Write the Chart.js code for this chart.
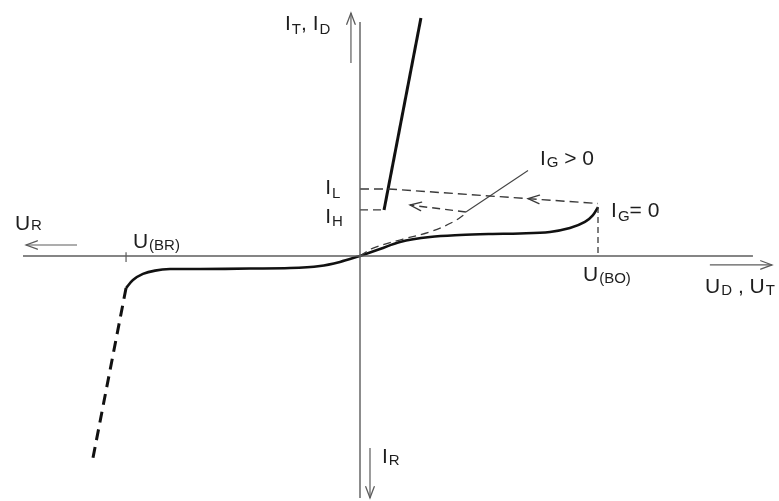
<!DOCTYPE html>
<html>
<head>
<meta charset="utf-8">
<script src="https://cdn.jsdelivr.net/npm/chart.js@4.4.1/dist/chart.umd.min.js"></script>
<style>
  html, body { margin: 0; padding: 0; background: #fff; }
  #wrap { width: 779px; height: 501px; }
</style>
</head>
<body>
<div id="wrap"><canvas id="thyristor" width="779" height="501"></canvas></div>
<script>
// Thyristor U-I characteristic. U in % of U(BO), I in arbitrary units.

// characteristic points
const U_BO = 100;
const U_BR = -98.3;
const I_H = 18;
const I_L = 26.2;

// forward blocking, IG = 0
const blockU = [0, 8.4, 16.8, 29.4, 42, 54.6, 67.2, 79.8, 88.2, 94.5, 97.9, U_BO];
const blockI = [0, 2.7, 5.5, 7.4, 8.2, 8.6, 8.8, 9.4, 10.9, 13.3, 16, 19.1];

// forward blocking, IG > 0 (switches earlier)
const gateU = [0, 5.5, 18.1, 29.4, 39.1, 44.5];
const gateI = [0, 3.1, 6.6, 9.4, 13.3, 16.6];

// on-state branch
const onU = [10.1, 25.6];
const onI = [I_H, 93];

// reverse blocking
const revU = [0, -8.4, -16.8, -29.4, -46.2, -67.2, -79.8, -86.1, -91.2, -95.4, U_BR];
const revI = [0, -2.3, -3.9, -4.7, -4.9, -5.1, -5.1, -5.7, -7.0, -9.4, -12.5];

// reverse breakdown (avalanche)
const brkU = [U_BR, -112.2];
const brkI = [-12.5, -78.9];

// latching path from breakover back to IL
const latchU = [0, 12, U_BO];
const latchI = [I_L, I_L, 20.5];

// switching path for IG > 0
const swU = [44.5, 21];
const swI = [17.2, 19.9];

// axis extents
const axisU = [-141.6, 165.1];
const axisI = [91.4, -94.5];

const pts = (us, is) => us.map((u, k) => ({ x: u, y: is[k] }));

const AXIS = '#5c5c5c';
const INK = '#111';
const DASH = '#3a3a3a';

function line(data, color, width, extra) {
    return Object.assign({
        data: data,
        showLine: true,
        borderColor: color,
        borderWidth: width,
        pointRadius: 0,
        fill: false,
        tension: 0
    }, extra || {});
}

const datasets = [
    // axes
    line(pts(axisU, [0, 0]), AXIS, 1.4),
    line(pts([0, 0], axisI), AXIS, 1.4),
    // direction arrows beside the axes
    line(pts([-118.9, -140.3], [4.3, 4.3]), AXIS, 1.2),
    line(pts([147, 173.1], [-3.5, -3.5]), AXIS, 1.2),
    line(pts([-3.8, -3.8], [75.4, 94.9]), AXIS, 1.2),
    line(pts([4.2, 4.2], [-75, -94.5]), AXIS, 1.2),
    // U(BR) tick
    line(pts([U_BR, U_BR], [1.5, -2.3]), AXIS, 1.2),
    // dashed helper lines
    line(pts(gateU, gateI), DASH, 1.3, { borderDash: [8, 5], tension: 0.35 }),
    line(pts([0, onU[0]], [I_H, I_H]), DASH, 1.4, { borderDash: [8, 5] }),
    line(pts(latchU, latchI), DASH, 1.4, { borderDash: [9, 5] }),
    line(pts([U_BO, U_BO], [blockI[blockI.length - 1], 0]), DASH, 1.3, { borderDash: [6, 4] }),
    line(pts(swU, swI), DASH, 1.4, { borderDash: [8, 5] }),
    // leader to the IG > 0 label
    line(pts([44.5, 70.6], [17.2, 33.4]), '#444', 1.1),
    // main curves
    line(pts(blockU, blockI), INK, 2.6, { tension: 0.35 }),
    line(pts(revU, revI), INK, 2.6, { tension: 0.35 }),
    line(pts(brkU, brkI), INK, 3, { borderDash: [11, 7] }),
    line(pts(onU, onI), INK, 3)
];

// open arrow heads: tip and a point the shaft comes from
const heads = [
    { tip: [-140.3, 4.3], from: [-118.9, 4.3], color: AXIS },
    { tip: [173.1, -3.5], from: [147, -3.5], color: AXIS },
    { tip: [-3.8, 94.9], from: [-3.8, 75.4], color: AXIS },
    { tip: [4.2, -94.5], from: [4.2, -75], color: AXIS },
    { tip: [70.6, 22.4], from: [U_BO, 20.5], color: DASH },
    { tip: [swU[1], swI[1]], from: [swU[0], swI[0]], color: DASH }
];

// labels: [text, subscript] pairs, anchored at left/baseline; drop = subscript shift
const labels = [
    { at: [-31.5, 88.3], drop: 4, parts: [['I', 'T'], [', I', 'D']] },
    { at: [-145, 10.2], drop: 0, parts: [['U', 'R']] },
    { at: [-95.4, 3.1], drop: 2, parts: [['U', '(BR)']] },
    { at: [-14.6, 24.2], drop: 4, parts: [['I', 'L']] },
    { at: [-14.6, 12.9], drop: 3, parts: [['I', 'H']] },
    { at: [75.6, 35.5], drop: 2, parts: [['I', 'G'], [' > 0', '']] },
    { at: [105.5, 15.2], drop: 4, parts: [['I', 'G'], ['= 0', '']] },
    { at: [93.7, -9.8], drop: 2, parts: [['U', '(BO)']] },
    { at: [145, -14.5], drop: 2, parts: [['U', 'D'], [' , U', 'T']] },
    { at: [9.2, -80.9], drop: 2, parts: [['I', 'R']] }
];

const annotate = {
    id: 'annotate',
    afterDatasetsDraw(chart) {
        const ctx = chart.ctx;
        const sx = chart.scales.x, sy = chart.scales.y;
        const px = p => [sx.getPixelForValue(p[0]), sy.getPixelForValue(p[1])];

        ctx.save();
        ctx.lineCap = 'round';
        heads.forEach(h => {
            const [tx, ty] = px(h.tip);
            const [fx, fy] = px(h.from);
            const a = Math.atan2(ty - fy, tx - fx);
            const len = 12, spread = 0.36;
            ctx.strokeStyle = h.color;
            ctx.lineWidth = 1.3;
            ctx.beginPath();
            ctx.moveTo(tx - len * Math.cos(a - spread), ty - len * Math.sin(a - spread));
            ctx.lineTo(tx, ty);
            ctx.lineTo(tx - len * Math.cos(a + spread), ty - len * Math.sin(a + spread));
            ctx.stroke();
        });

        ctx.fillStyle = '#1e1e1e';
        ctx.textBaseline = 'alphabetic';
        ctx.textAlign = 'left';
        labels.forEach(l => {
            let [x, y] = px(l.at);
            l.parts.forEach(([main, sub]) => {
                ctx.font = '21px "Liberation Sans", Arial, sans-serif';
                ctx.fillText(main, x, y);
                x += ctx.measureText(main).width;
                if (sub) {
                    ctx.font = '15px "Liberation Sans", Arial, sans-serif';
                    ctx.fillText(sub, x + 1, y + l.drop);
                    x += ctx.measureText(sub).width + 1;
                }
            });
        });
        ctx.restore();
    }
};

new Chart(document.getElementById('thyristor').getContext('2d'), {
    type: 'scatter',
    data: { datasets: datasets },
    options: {
        responsive: false,
        animation: false,
        devicePixelRatio: 1,
        layout: { padding: 0 },
        scales: {
            x: { type: 'linear', min: -151.26, max: 176.05, display: false },
            y: { type: 'linear', min: -95.7, max: 100, display: false }
        },
        plugins: {
            legend: { display: false },
            tooltip: { enabled: false }
        }
    },
    plugins: [annotate]
});
</script>
</body>
</html>
